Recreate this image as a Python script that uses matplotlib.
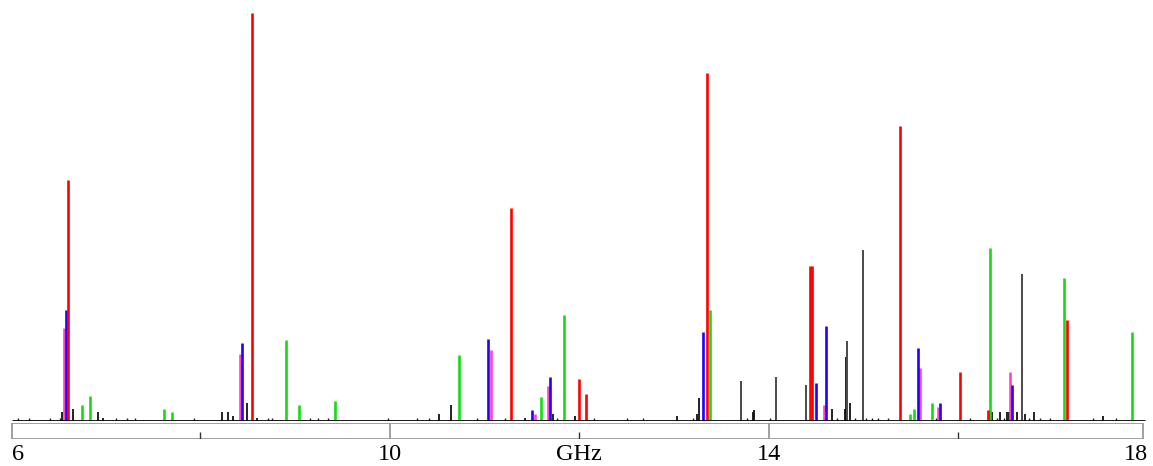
import matplotlib.pyplot as plt
from matplotlib.patches import Rectangle

# line positions (GHz) and relative intensities (% of strongest line)
red_f = [6.612, 8.552, 11.283, 12.000, 12.074, 13.350, 14.436, 14.457, 15.385, 16.018, 16.313, 17.146]
red_h = [59.0, 100.0, 52.1, 10.1, 6.4, 85.3, 37.8, 37.8, 72.2, 12.0, 2.5, 24.6]

blue_f = [6.591, 8.446, 11.041, 11.505, 11.694, 13.308, 14.499, 14.605, 15.575, 15.807, 16.566]
blue_h = [27.0, 18.9, 20.1, 2.5, 10.6, 21.6, 9.3, 23.1, 17.9, 4.4, 8.6]

magenta_f = [6.569, 8.425, 11.072, 11.536, 11.673, 14.584, 15.596, 15.786, 16.545]
magenta_h = [22.6, 16.2, 17.4, 1.7, 8.4, 3.7, 13.0, 3.2, 11.8]

green_f = [6.759, 6.844, 7.624, 7.708, 8.910, 9.048, 9.427, 10.735, 11.600, 11.842,
           13.382, 15.491, 15.533, 15.723, 16.334, 17.115, 17.832]
green_h = [3.7, 6.1, 2.7, 2.2, 19.7, 3.9, 4.7, 16.0, 5.7, 25.8,
           27.0, 1.7, 2.9, 4.4, 42.3, 34.9, 21.6]

gray_f = [13.709, 14.078, 14.394, 14.826, 14.995, 16.672]
gray_h = [9.6, 10.6, 8.8, 19.4, 41.8, 35.9]

black_f = [6.548, 6.664, 6.928, 6.981, 8.236, 8.299, 8.352, 8.499, 8.605, 10.524,
           10.650, 11.431, 11.726, 11.958, 13.034, 13.245, 13.266, 13.835, 13.846, 14.668,
           14.805, 14.816, 14.858, 16.355, 16.440, 16.513, 16.534, 16.619, 16.703, 16.798,
           17.526]
black_h = [2.2, 2.7, 2.2, 0.7, 2.2, 2.2, 1.0, 4.4, 0.7, 1.5,
           3.9, 0.7, 1.5, 1.0, 1.0, 1.5, 5.4, 2.0, 2.5, 2.9,
           2.7, 15.5, 4.4, 2.2, 2.0, 2.2, 2.0, 2.2, 1.7, 2.2,
           1.0]

# tiny lines near the baseline
weak_f = [6.074, 6.190, 6.422, 6.527, 7.118, 7.234, 7.318, 7.940, 8.721, 8.763,
          9.164, 9.248, 9.353, 9.986, 10.292, 10.418, 10.925, 11.220, 11.768, 12.158,
          12.506, 12.675, 13.202, 13.772, 14.014, 14.721, 14.911, 15.027, 15.090, 15.153,
          15.259, 15.765, 16.123, 16.408, 16.482, 16.746, 16.862, 16.967, 17.421, 17.663]
weak_h = [0.6] * len(weak_f)

tick_labels = ['6', '10', 'GHz', '14', '18']
tick_pos = [6, 10, 12, 14, 18]

W, H = 1153, 466
fig = plt.figure(figsize=(W / 100, H / 100), dpi=100)

x0, x1 = 10.5, 1147.5
ax = fig.add_axes([x0 / W, (H - 420.5) / H, (x1 - x0) / W, (420.5 - 13) / H])
ax.set_xlim(6, 18)
ax.set_ylim(0, 100)
ax.axis('off')

ax.vlines(weak_f, 0, weak_h, color='#222222', lw=1.0)
ax.vlines(black_f, 0, black_h, color='#111111', lw=1.3)
ax.vlines(gray_f, 0, gray_h, color='#4a4a4a', lw=1.4)
ax.vlines(green_f, 0, green_h, color='#11dd11', lw=1.9)
ax.vlines(magenta_f, 0, magenta_h, color='#ff44cc', lw=1.9)
ax.vlines(blue_f, 0, blue_h, color='#2200ff', lw=1.9)
ax.vlines(red_f, 0, red_h, color='#ff0000', lw=1.9)
ax.hlines(0, 6.02, 17.97, color='black', lw=2.0)

# frequency bar under the spectrum
bx = fig.add_axes([x0 / W, (H - 439) / H, (x1 - x0) / W, 16 / H])
bx.set_xlim(6, 18)
bx.set_ylim(0, 1)
bx.axis('off')
bx.add_patch(Rectangle((6.016, 0), 11.936, 1, fill=False, ec='#999999', lw=1.3))
bx.vlines([10, 14], 0, 1, color='#999999', lw=1.3)
bx.vlines([8, 12, 16], 0, 0.45, color='#333333', lw=1.0)

for lab, p in zip(tick_labels, tick_pos):
    ha = 'center'
    xp = x0 + (p - 6) * (x1 - x0) / 12
    if p == 6:
        ha, xp = 'left', 12
    elif p == 18:
        ha, xp = 'right', 1148
    fig.text(xp / W, 0.5 / H, lab, ha=ha, va='bottom',
             fontsize=17.5, family='Liberation Serif')

fig.savefig('out.png', dpi=100)
